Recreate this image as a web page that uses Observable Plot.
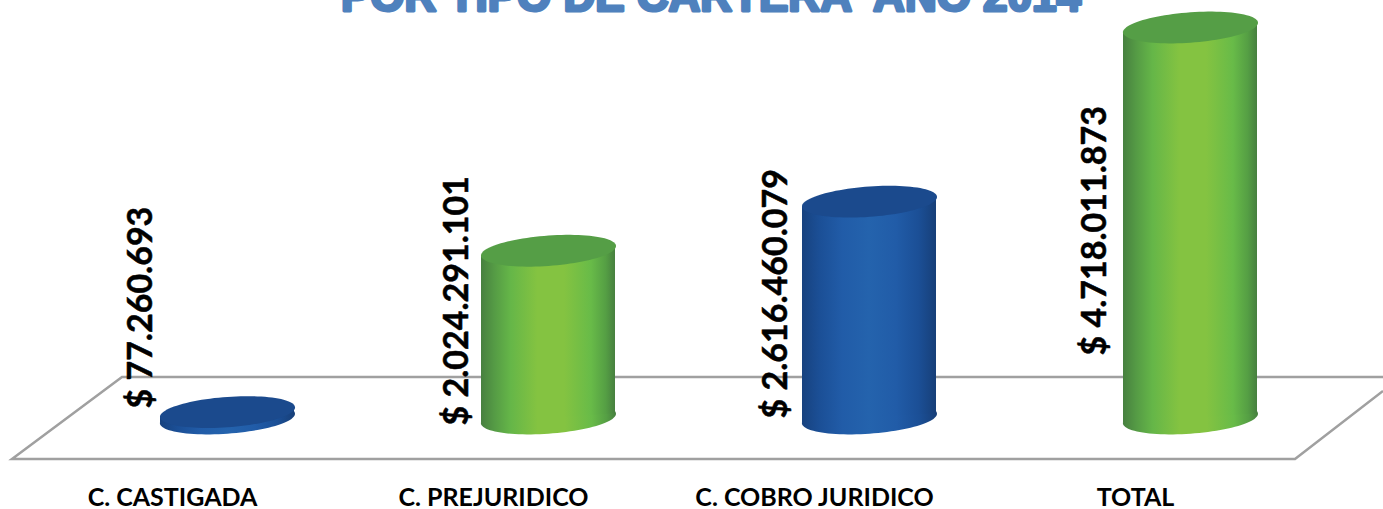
<!DOCTYPE html>
<html>
<head>
<meta charset="utf-8">
<style>html,body{margin:0;padding:0;background:#fff}svg{display:block}</style>
<script src="https://cdn.jsdelivr.net/npm/d3@7"></script>
<script src="https://cdn.jsdelivr.net/npm/@observablehq/plot@0.6"></script>
</head>
<body>
<div id="chart"></div>
<script>
const categories = ["C. CASTIGADA", "C. PREJURIDICO", "C. COBRO JURIDICO", "TOTAL"];
const values = [77260693, 2024291101, 2616460079, 4718011873];
const valueLabels = ["$ 77.260.693", "$ 2.024.291.101", "$ 2.616.460.079", "$ 4.718.011.873"];
const labelStart = [120000000, -84000000, 0, 760000000];
const palette = ["blue", "green", "blue", "green"];
const title = "POR TIPO DE CARTERA  AÑO 2014";

const rows = categories.map((c, i) => ({c, v: values[i], l: valueLabels[i], s: labelStart[i], p: palette[i]}));
const body = {blue: "url(#bodyBlue)", green: "url(#bodyGreen)"};
const cap = {blue: "#1b4a8d", green: "#559e46"};
const labelShift = [-86, -91, -93, -95];

const slope = 0.07;
const tilted = {
  draw(ctx, size) {
    const r = Math.sqrt(size / Math.PI), a = r, b = r * 0.225;
    for (let k = 0; k < 96; k++) {
      const q = k / 96 * 2 * Math.PI;
      const x = a * Math.cos(q);
      const y = b * Math.sin(q) - x * slope;
      k ? ctx.lineTo(x, y) : ctx.moveTo(x, y);
    }
    ctx.closePath();
  }
};

const NS = "http://www.w3.org/2000/svg";
function gradient(id, stops) {
  const g = document.createElementNS(NS, "linearGradient");
  g.setAttribute("id", id);
  stops.forEach(([o, col]) => {
    const s = document.createElementNS(NS, "stop");
    s.setAttribute("offset", o);
    s.setAttribute("stop-color", col);
    g.appendChild(s);
  });
  return g;
}
const defsMark = () => {
  const d = document.createElementNS(NS, "defs");
  d.appendChild(gradient("bodyGreen", [[0, "#47803f"], [.1, "#559b45"], [.22, "#65b648"], [.42, "#84c341"], [.62, "#84c341"], [.82, "#68bb48"], [.93, "#559f44"], [1, "#47803f"]]));
  d.appendChild(gradient("bodyBlue", [[0, "#17427f"], [.13, "#1b4f96"], [.3, "#215ca8"], [.5, "#2463ad"], [.7, "#215ca8"], [.87, "#1b4f96"], [1, "#173f78"]]));
  return d;
};

// Floor of the 3-D plot: corners follow the value scale and the category band scale.
const floorBack = 495000000, floorFront = -495000000;
const floorMark = (index, {x, y}) => {
  const first = x(categories[0]), last = x(categories[3]) + x.bandwidth();
  const b = y(floorBack), f = y(floorFront);
  const p = document.createElementNS(NS, "path");
  p.setAttribute("d", `M${last + 126},${b}H${first - 38}L${first - 148},${f}H${last + 38}L${last + 126},${b + 14}`);
  p.setAttribute("fill", "none");
  p.setAttribute("stroke", "#a0a0a0");
  p.setAttribute("stroke-width", 2.5);
  return p;
};

// Shear each cylinder body so its ends meet the tangent points of the tilted caps.
function shearBars(index, scales, vals, dims, ctx, next) {
  const g = next(index, scales, vals, dims, ctx);
  g.querySelectorAll("rect").forEach(r => {
    const cx = +r.getAttribute("x") + r.getAttribute("width") / 2;
    r.setAttribute("transform", `matrix(1 ${-slope} 0 1 0 ${cx * slope})`);
  });
  return g;
}

const chart = Plot.plot({
  width: 1383, height: 509,
  marginLeft: 0, marginRight: 0, marginTop: 0, marginBottom: 0,
  style: {background: "#fff", overflow: "hidden"},
  x: {domain: categories, type: "band", range: [160, 1257], paddingInner: 0.583, paddingOuter: 0, label: null},
  y: {domain: [0, 4718011873], range: [418, 27], label: null, axis: null},
  color: {type: "identity"},
  marks: [
    defsMark,
    floorMark,
    Plot.dot(rows, {x: "c", y: 0, r: 67.5, symbol: tilted, fill: d => body[d.p]}),
    Plot.barY(rows, {x: "c", y: "v", fill: d => body[d.p], render: shearBars}),
    Plot.dot(rows, {x: "c", y: "v", r: 67.5, symbol: tilted, fill: d => cap[d.p]}),
    rows.map((d, i) => Plot.text([d], {x: "c", y: "s", text: "l", rotate: -90, textAnchor: "start", dx: labelShift[i], fill: "#000",
      stroke: "#000", strokeWidth: 0.5, fontFamily: "Lato", fontWeight: 700, fontSize: 34})),
    Plot.axisX({anchor: "bottom", tickSize: 0, dx: -55, dy: -12, tickPadding: 0, label: null,
      fontFamily: "Lato", fontWeight: 700, fontSize: 25, color: "#000", lineAnchor: "middle"}),
    Plot.text([title], {frameAnchor: "top", lineAnchor: "bottom", dx: 19, dy: 10, fill: "#4f81bd", stroke: "#4f81bd", strokeWidth: 3,
      fontFamily: "Liberation Sans", fontWeight: 700, fontSize: 44, letterSpacing: 3.3})
  ]
});
document.getElementById("chart").appendChild(chart);
</script>
</body>
</html>
